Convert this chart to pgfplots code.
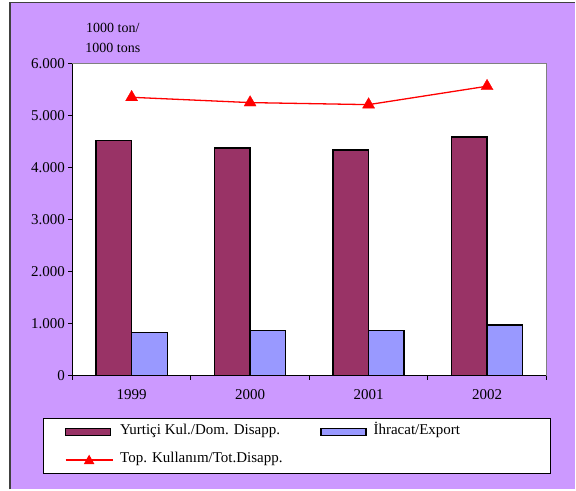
\documentclass[border=0pt]{standalone}
\usepackage{pgfplots}
\pgfplotsset{compat=1.18}
\usepackage{fontspec}
\setmainfont{Liberation Serif}
\definecolor{bg}{HTML}{CC99FF}
\definecolor{dom}{HTML}{993366}
\definecolor{expc}{HTML}{9999FF}
\begin{document}
\begin{tikzpicture}[x=1pt,y=1pt,font=\fontsize{15}{18}\selectfont]
\fill[white] (0,0) rectangle (576,-490);
\fill[bg] (10,-2) rectangle (576,-490);
\draw[black!75, line width=1.5pt] (10,-490) -- (10,-2.75) -- (576,-2.75);
\draw[fill=white, line width=0.9pt] (43.3,-419) rectangle (550.7,-474.3);
\node[anchor=base, inner sep=0pt, font=\fontsize{14}{16}\selectfont] at (113,-32.7) {1000 ton/};
\node[anchor=base, inner sep=0pt, font=\fontsize{14}{16}\selectfont] at (113,-53) {1000 tons};
\begin{axis}[
  at={(72.5pt,-376.3pt)}, anchor=south west, scale only axis,
  width=474.5pt, height=312.3pt,
  xmin=-0.5, xmax=3.5, ymin=0, ymax=6000,
  axis background/.style={fill=white},
  axis line style={draw=gray, line width=1pt},
  xtick={0,1,2,3}, xticklabels={1999,2000,2001,2002},
  minor xtick={-0.5,0.5,1.5,2.5,3.5},
  xtick pos=bottom, ytick pos=left, tick align=outside,
  x tick style={draw=none},
  minor x tick style={draw=black, line width=1pt},
  minor tick length=4pt,
  y tick style={black, line width=1pt},
  major tick length=4pt,
  ytick={0,1000,...,6000},
  scaled y ticks=false,
  /pgf/number format/.cd, fixed, precision=0, 1000 sep={.}, assume math mode=true,
  /pgfplots/.cd,
  xticklabel style={yshift=-6pt},
  extra description/.code={
    \draw[black, line width=1.2pt] (axis description cs:0,1) -- (axis description cs:0,0) -- (axis description cs:1,0);
  },
  legend columns=2,
  legend cell align=left,
  legend style={at={(axis description cs:-0.016,-0.157)}, anchor=north west,
    draw=none, fill=none, inner sep=0pt,
    nodes={inner sep=0pt, text height=10pt, text depth=4pt},
    row sep=14pt,
    /tikz/every odd column/.append style={column sep=7pt},
    /tikz/every even column/.append style={column sep=38pt}},
]
\addplot[ybar, bar width=0.3, bar shift=-0.15, fill=dom, draw=black, line width=1.3pt,
  legend image code/.code={\draw[fill=dom, draw=black, line width=1.2pt] (0pt,-3.5pt) rectangle (45pt,3.5pt);}]
  coordinates {(0,4525) (1,4385) (2,4346) (3,4596)};
\addlegendentry{Yurtiçi Kul./Dom. Disapp.}
\addplot[ybar, bar width=0.3, bar shift=0.15, fill=expc, draw=black, line width=1.3pt,
  legend image code/.code={\draw[fill=expc, draw=black, line width=1.2pt] (0pt,-3.5pt) rectangle (45pt,3.5pt);}]
  coordinates {(0,833) (1,871) (2,871) (3,975)};
\addlegendentry{İhracat/Export}
\addplot[sharp plot, red, line width=1.3pt, mark=triangle*, mark size=7pt, mark options={fill=red, line width=0.3pt},
  legend image code/.code={\draw[red, line width=1.3pt] (0pt,0pt) -- (47pt,0pt); \fill[red] (23.5pt,0pt) ++(0pt,4pt) -- ++(-4.2pt,-7.5pt) -- ++(8.4pt,0pt) -- cycle;}]
  coordinates {(0,5358) (1,5256) (2,5217) (3,5571)};
\addlegendentry{Top. Kullanım/Tot.Disapp.}
\end{axis}
\end{tikzpicture}
\end{document}
